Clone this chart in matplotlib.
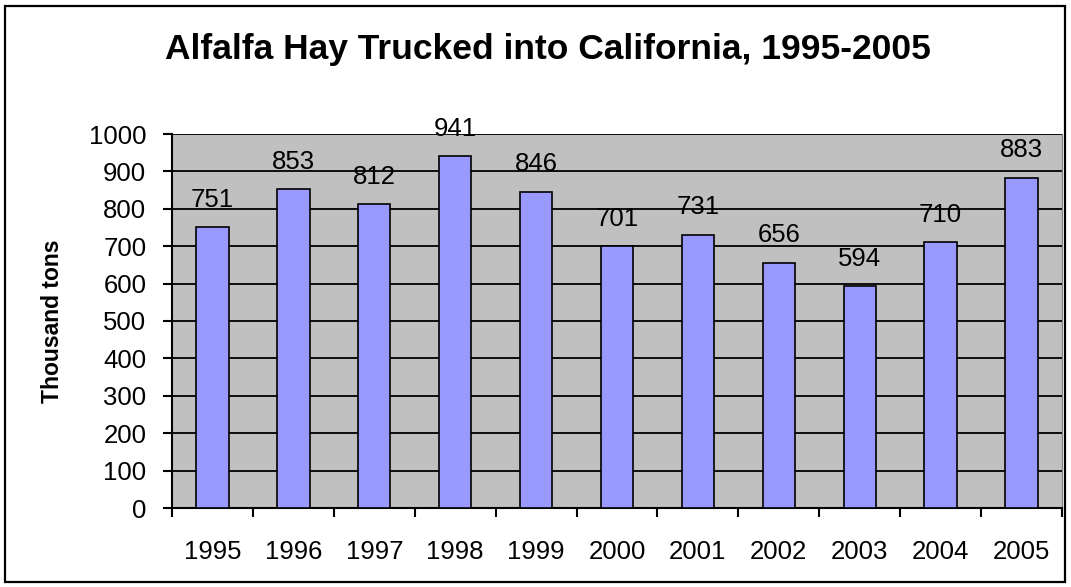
import matplotlib
matplotlib.use("Agg")
import matplotlib.pyplot as plt
from matplotlib.patches import Rectangle

years = ["1995", "1996", "1997", "1998", "1999", "2000", "2001", "2002", "2003", "2004", "2005"]
values = [751, 853, 812, 941, 846, 701, 731, 656, 594, 710, 883]
yticks = [0, 100, 200, 300, 400, 500, 600, 700, 800, 900, 1000]

plt.rcParams['font.family'] = ['Liberation Sans', 'DejaVu Sans']

W, H = 1071, 587
fig = plt.figure(figsize=(W / 100, H / 100), dpi=100)
fig.patches.append(Rectangle((5 / W, 5 / H), (W - 11) / W, (H - 11) / H,
                             transform=fig.transFigure, fill=False,
                             edgecolor='black', linewidth=1.6))

left, right, top, bottom = 172, 1062, 134, 508
ax = fig.add_axes([left / W, 1 - bottom / H, (right - left) / W, (bottom - top) / H])
ax.set_facecolor('#C0C0C0')

x = list(range(len(years)))
bars = ax.bar(x, values, width=0.4, color='#9999FF', edgecolor='black', linewidth=1.2, zorder=3)
for xi, v in zip(x, values):
    ax.annotate(str(v), (xi, v), xytext=(0, 11), textcoords='offset points',
                ha='center', va='bottom', fontsize=18.5, zorder=4)

ax.set_xlim(-0.5, len(years) - 0.5)
ax.set_ylim(0, 1000)
ax.set_yticks(yticks)
ax.set_yticklabels([str(t) for t in yticks], fontsize=18.5)
ax.yaxis.grid(True, color='black', linewidth=1.3, zorder=1)
ax.set_axisbelow(True)

ax.set_xticks([i - 0.5 for i in range(len(years) + 1)])
ax.set_xticklabels([])
ax.set_xticks(x, minor=True)
ax.set_xticklabels(years, minor=True, fontsize=18.5)
ax.tick_params(axis='x', which='minor', length=0, pad=23)
ax.tick_params(axis='x', which='major', direction='out', length=6.5, width=1.5)
ax.tick_params(axis='y', direction='out', length=6.5, width=1.5, pad=12)

ax.spines['top'].set_visible(False)
ax.spines['right'].set_color('#808080')
ax.spines['left'].set_linewidth(1.5)
ax.spines['bottom'].set_linewidth(1.5)

ax.set_ylabel('Thousand tons', fontsize=16.5, fontweight='bold', labelpad=18)

fig.text(548 / W, 1 - 50 / H, 'Alfalfa Hay Trucked into California, 1995-2005',
         ha='center', va='center', fontsize=25.5, fontweight='bold')

fig.savefig('out.png', dpi=100)
